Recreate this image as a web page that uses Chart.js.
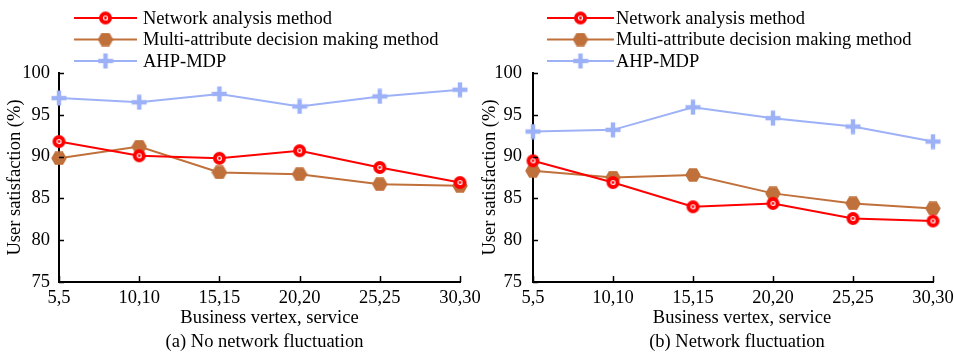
<!DOCTYPE html>
<html>
<head>
<meta charset="utf-8">
<script src="https://cdn.jsdelivr.net/npm/chart.js@4.4.1/dist/chart.umd.min.js"></script>
<style>
  html, body { margin: 0; padding: 0; background: #fff; }
  #wrap { position: relative; width: 954px; height: 354px; overflow: hidden; }
  #chartA { position: absolute; left: 0; top: 0; z-index: 2; }
  #chartB { position: absolute; left: 477px; top: 0; z-index: 1; }
  canvas { display: block; }
</style>
</head>
<body>
<div id="wrap">
  <canvas id="chartA" width="492" height="354"></canvas>
  <canvas id="chartB" width="477" height="354"></canvas>
</div>
<script>
// Business vertex / service counts on the x axis
const categories = ['5,5', '10,10', '15,15', '20,20', '25,25', '30,30'];

// Series names
const seriesNames = ['Network analysis method', 'Multi-attribute decision making method', 'AHP-MDP'];

// (a) No network fluctuation — user satisfaction (%)
const networkA = [91.8, 90.1, 89.8, 90.7, 88.7, 86.9];
const madmA    = [89.8, 91.2, 88.1, 87.9, 86.7, 86.5];
const ahpA     = [97.0, 96.5, 97.5, 96.0, 97.2, 98.0];

// (b) Network fluctuation — user satisfaction (%)
const networkB = [89.5, 86.9, 84.0, 84.4, 82.6, 82.3];
const madmB    = [88.3, 87.5, 87.8, 85.6, 84.4, 83.8];
const ahpB     = [93.0, 93.2, 95.9, 94.6, 93.6, 91.8];

// Y axis range and step
const yMin = 75, yMax = 100, yStep = 5;

const axisTitleX = 'Business vertex, service';
const axisTitleY = 'User satisfaction (%)';

const COLORS = { network: '#FF0000', madm: '#C0703A', ahp: '#9DB1F7' };
const FONT = "'Liberation Serif', 'Times New Roman', serif";
const FONT_SIZE = 18.5;

Chart.defaults.font.family = FONT;
Chart.defaults.color = '#000';

// ---- marker images ----
function circleMarker(color) {
  const c = document.createElement('canvas');
  c.width = 15; c.height = 15;
  const g = c.getContext('2d');
  g.fillStyle = color;
  g.beginPath(); g.arc(7.5, 7.5, 6.5, 0, Math.PI * 2); g.fill();
  g.strokeStyle = '#fff'; g.lineWidth = 1.2;
  g.beginPath(); g.arc(7.5, 7.5, 2.0, 0, Math.PI * 2); g.stroke();
  return c;
}
function hexMarker(color) {
  const c = document.createElement('canvas');
  c.width = 16; c.height = 14;
  const g = c.getContext('2d');
  const cx = 8, cy = 7, rx = 7.8, ry = 6.8;
  g.fillStyle = color;
  g.beginPath();
  g.moveTo(cx - rx, cy);
  g.lineTo(cx - rx / 2, cy - ry);
  g.lineTo(cx + rx / 2, cy - ry);
  g.lineTo(cx + rx, cy);
  g.lineTo(cx + rx / 2, cy + ry);
  g.lineTo(cx - rx / 2, cy + ry);
  g.closePath(); g.fill();
  return c;
}
function plusMarker(color) {
  const c = document.createElement('canvas');
  c.width = 16; c.height = 16;
  const g = c.getContext('2d');
  g.fillStyle = color;
  g.fillRect(0.5, 5.8, 15, 4.4);
  g.fillRect(5.8, 0.5, 4.4, 15);
  return c;
}
const markers = {
  network: circleMarker(COLORS.network),
  madm: hexMarker(COLORS.madm),
  ahp: plusMarker(COLORS.ahp)
};

function makeDatasets(net, madm, ahp) {
  const base = { borderWidth: 2, tension: 0, pointRadius: 7, clip: false, fill: false };
  return [
    Object.assign({ label: seriesNames[0], data: net, borderColor: COLORS.network, backgroundColor: COLORS.network, pointStyle: markers.network }, base),
    Object.assign({ label: seriesNames[1], data: madm, borderColor: COLORS.madm, backgroundColor: COLORS.madm, pointStyle: markers.madm }, base),
    Object.assign({ label: seriesNames[2], data: ahp, borderColor: COLORS.ahp, backgroundColor: COLORS.ahp, pointStyle: markers.ahp }, base)
  ];
}

// Inward tick marks, line+marker legend and axis/panel captions
const decorPlugin = {
  id: 'decor',
  afterDraw(chart, args, opts) {
    const ctx = chart.ctx, ca = chart.chartArea;
    const xs = chart.scales.x, ys = chart.scales.y;
    ctx.save();
    ctx.strokeStyle = '#000';
    ctx.lineWidth = 1.5;
    ctx.beginPath();
    xs.ticks.forEach((t, i) => {
      const x = Math.round(xs.getPixelForTick(i)) + 0.5;
      ctx.moveTo(x, ca.bottom); ctx.lineTo(x, ca.bottom - 6);
    });
    ys.ticks.forEach((t, i) => {
      const y = Math.round(ys.getPixelForTick(i)) + 0.5;
      ctx.moveTo(ca.left, y); ctx.lineTo(ca.left + 5, y);
    });
    ctx.stroke();

    // legend
    ctx.font = FONT_SIZE + 'px ' + FONT;
    ctx.textBaseline = 'middle';
    ctx.textAlign = 'left';
    chart.data.datasets.forEach((ds, i) => {
      const y = opts.legendTop + i * opts.legendGap;
      ctx.strokeStyle = ds.borderColor;
      ctx.lineWidth = 2;
      ctx.beginPath();
      ctx.moveTo(opts.legendX0, y); ctx.lineTo(opts.legendX1, y);
      ctx.stroke();
      const m = ds.pointStyle;
      const mx = (opts.legendX0 + opts.legendX1) / 2;
      ctx.drawImage(m, mx - m.width / 2, y - m.height / 2);
      ctx.fillStyle = '#000';
      ctx.fillText(ds.label, opts.legendText, y + 1);
    });

    // axis titles and caption
    ctx.fillStyle = '#000';
    ctx.textAlign = 'center';
    const cx = (ca.left + ca.right) / 2;
    ctx.fillText(axisTitleX, cx + opts.titleShift, opts.xTitleY);
    ctx.fillText(opts.caption, cx + opts.captionShift, opts.captionY);
    ctx.save();
    ctx.translate(opts.yTitleX, (ca.top + ca.bottom) / 2);
    ctx.rotate(-Math.PI / 2);
    ctx.fillText(axisTitleY, 0, 0);
    ctx.restore();
    ctx.restore();
  }
};

function makeChart(id, datasets, cfg) {
  return new Chart(document.getElementById(id), {
    type: 'line',
    data: { labels: categories, datasets },
    options: {
      responsive: false,
      animation: false,
      events: [],
      layout: { padding: { left: 0, right: cfg.padRight, top: 73, bottom: 0 } },
      plugins: {
        legend: { display: false },
        tooltip: { enabled: false },
        decor: cfg.decor
      },
      scales: {
        x: {
          type: 'category',
          offset: false,
          grid: { display: false, drawTicks: false },
          border: { display: true, color: '#000', width: 2 },
          ticks: { color: '#000', font: { size: FONT_SIZE }, padding: 5, maxRotation: 0, autoSkip: false },
          afterFit: s => { s.height = 72; s.paddingLeft = 0; s.paddingRight = 0; }
        },
        y: {
          min: yMin, max: yMax,
          grid: { display: false, drawTicks: false },
          border: { display: true, color: '#000', width: 2 },
          ticks: { stepSize: yStep, color: '#000', font: { size: FONT_SIZE }, padding: cfg.yPad },
          afterFit: s => { s.width = cfg.axisLeft; s.paddingTop = 0; s.paddingBottom = 0; }
        }
      }
    },
    plugins: [decorPlugin]
  });
}

makeChart('chartA', makeDatasets(networkA, madmA, ahpA), {
  padRight: 32, axisLeft: 59, yPad: 9,
  decor: {
    legendTop: 18, legendGap: 21.5, legendX0: 74, legendX1: 137, legendText: 143,
    titleShift: 10, xTitleY: 318, caption: '(a) No network fluctuation', captionShift: 5, captionY: 342,
    yTitleX: 15
  }
});

makeChart('chartB', makeDatasets(networkB, madmB, ahpB), {
  padRight: 21, axisLeft: 56, yPad: 11,
  decor: {
    legendTop: 18, legendGap: 21.5, legendX0: 70, legendX1: 137, legendText: 139,
    titleShift: 9, xTitleY: 318, caption: '(b) Network fluctuation', captionShift: 4, captionY: 342,
    yTitleX: 13
  }
});
</script>
</body>
</html>
